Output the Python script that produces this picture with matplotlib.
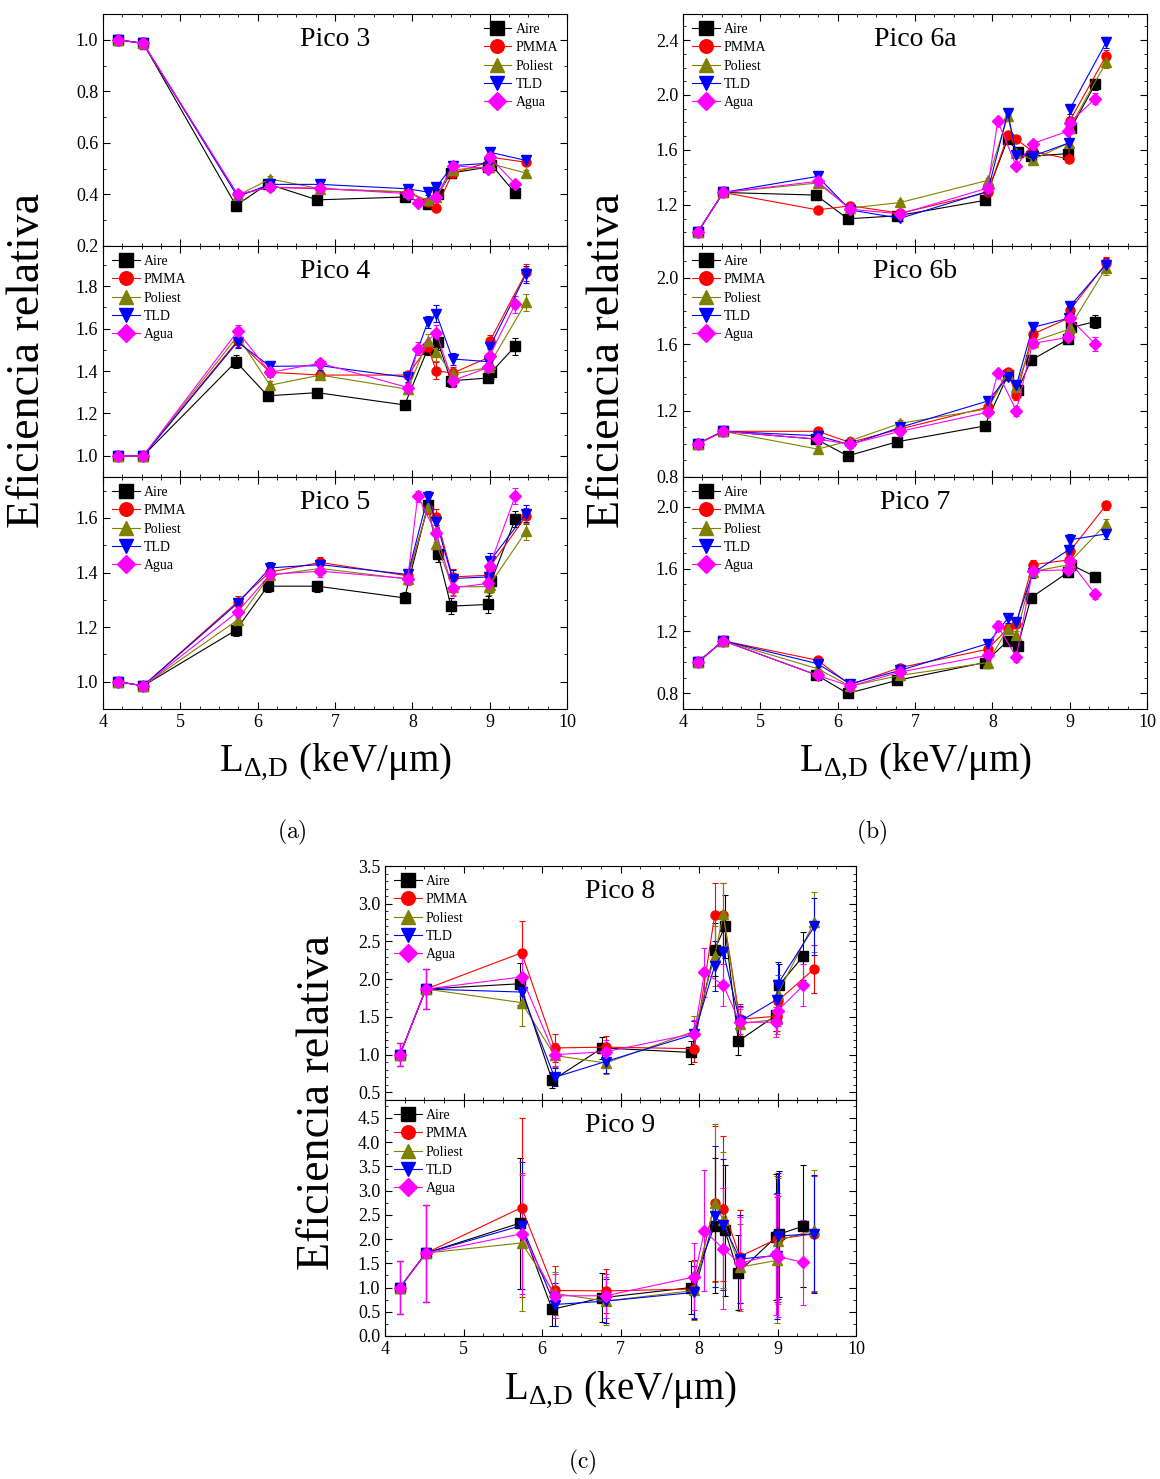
import numpy as np
import matplotlib
matplotlib.use('Agg')
import matplotlib.pyplot as plt
from matplotlib.ticker import MultipleLocator, FixedLocator

plt.rcParams['font.family'] = ['Liberation Serif', 'DejaVu Serif']
plt.rcParams['mathtext.fontset'] = 'stix'

# posiciones en x (LET, keV/um) de cada material
x_aire = [4.19, 4.52, 5.72, 6.13, 6.77, 7.90, 8.20, 8.33, 8.50, 8.98, 9.02, 9.33]
x_pmma = [4.19, 4.52, 5.74, 6.16, 6.81, 7.94, 8.20, 8.31, 8.52, 8.99, 9.00, 9.47]
x_poli = [4.19, 4.52, 5.74, 6.16, 6.81, 7.94, 8.20, 8.31, 8.52, 8.99, 9.00, 9.47]
x_tld = [4.19, 4.52, 5.74, 6.16, 6.81, 7.94, 8.20, 8.31, 8.52, 8.99, 9.00, 9.47]
x_agua = [4.19, 4.52, 5.74, 6.16, 6.81, 7.94, 8.07, 8.31, 8.52, 8.98, 9.00, 9.33]

# Pico 3
p3_aire = [1.00, 0.986, 0.357, 0.441, 0.379, 0.390, 0.364, 0.400, 0.483, 0.506, 0.516, 0.405]
p3_pmma = [1.00, 0.986, 0.399, 0.428, 0.422, 0.409, 0.370, 0.348, 0.483, 0.525, 0.545, 0.525]
p3_poli = [1.00, 0.986, 0.396, 0.460, 0.422, 0.410, 0.377, 0.390, 0.495, 0.508, 0.520, 0.483]
p3_tld = [1.00, 0.986, 0.392, 0.439, 0.439, 0.422, 0.409, 0.428, 0.512, 0.521, 0.564, 0.532]
p3_agua = [1.00, 0.986, 0.400, 0.428, 0.424, 0.403, 0.368, 0.390, 0.512, 0.500, 0.545, 0.441]
e3 = [0.02, 0.02, 0.01, 0.01, 0.01, 0.01, 0.01, 0.01, 0.01, 0.01, 0.01, 0.01]

# Pico 4
p4_aire = [1.00, 1.00, 1.444, 1.283, 1.298, 1.240, 1.505, 1.537, 1.354, 1.367, 1.394, 1.517]
p4_pmma = [1.00, 1.00, 1.544, 1.394, 1.381, 1.381, 1.513, 1.402, 1.390, 1.465, 1.540, 1.865]
p4_poli = [1.00, 1.00, 1.565, 1.333, 1.381, 1.314, 1.544, 1.489, 1.386, 1.417, 1.433, 1.724]
p4_tld = [1.00, 1.00, 1.537, 1.422, 1.425, 1.370, 1.632, 1.671, 1.457, 1.444, 1.513, 1.857]
p4_agua = [1.00, 1.00, 1.587, 1.394, 1.437, 1.322, 1.505, 1.579, 1.354, 1.417, 1.473, 1.714]
e4 = [0.01, 0.01, 0.03, 0.02, 0.02, 0.02, 0.03, 0.04, 0.03, 0.02, 0.03, 0.04]

# Pico 5
p5_aire = [1.00, 0.985, 1.189, 1.350, 1.350, 1.307, 1.646, 1.469, 1.277, 1.283, 1.368, 1.595]
p5_pmma = [1.00, 0.985, 1.293, 1.402, 1.437, 1.388, 1.634, 1.604, 1.384, 1.390, 1.420, 1.607]
p5_poli = [1.00, 0.985, 1.226, 1.390, 1.415, 1.376, 1.640, 1.506, 1.348, 1.348, 1.354, 1.551]
p5_tld = [1.00, 0.985, 1.287, 1.417, 1.429, 1.393, 1.677, 1.585, 1.378, 1.384, 1.441, 1.616]
p5_agua = [1.00, 0.985, 1.256, 1.393, 1.405, 1.378, 1.680, 1.543, 1.344, 1.360, 1.424, 1.680]
e5 = [0.01, 0.01, 0.02, 0.02, 0.02, 0.02, 0.02, 0.03, 0.03, 0.03, 0.03, 0.03]

# Pico 6a
p6a_aire = [1.00, 1.29, 1.271, 1.098, 1.120, 1.232, 1.680, 1.583, 1.554, 1.573, 1.761, 2.078]
p6a_pmma = [1.00, 1.29, 1.163, 1.193, 1.139, 1.290, 1.705, 1.676, 1.590, 1.534, 1.810, 2.285]
p6a_poli = [1.00, 1.29, 1.359, 1.176, 1.217, 1.378, 1.846, 1.578, 1.529, 1.651, 1.761, 2.237]
p6a_tld = [1.00, 1.29, 1.407, 1.163, 1.102, 1.298, 1.871, 1.566, 1.554, 1.651, 1.895, 2.383]
p6a_agua = [1.00, 1.29, 1.371, 1.168, 1.134, 1.322, 1.810, 1.480, 1.646, 1.737, 1.798, 1.973]
e6a = [0.01, 0.02, 0.02, 0.02, 0.02, 0.02, 0.02, 0.02, 0.02, 0.02, 0.03, 0.04]

# Pico 6b
p6b_aire = [1.00, 1.075, 1.028, 0.927, 1.012, 1.107, 1.412, 1.325, 1.503, 1.628, 1.700, 1.735]
p6b_pmma = [1.00, 1.075, 1.075, 1.008, 1.089, 1.220, 1.432, 1.291, 1.659, 1.756, 1.802, 2.085]
p6b_poli = [1.00, 1.075, 0.968, 1.018, 1.123, 1.210, 1.422, 1.341, 1.614, 1.689, 1.700, 2.058]
p6b_tld = [1.00, 1.075, 1.048, 0.994, 1.099, 1.257, 1.402, 1.351, 1.700, 1.756, 1.826, 2.078]
p6b_agua = [1.00, 1.075, 1.028, 0.998, 1.075, 1.190, 1.426, 1.200, 1.604, 1.640, 1.756, 1.600]
e6b = [0.01, 0.01, 0.02, 0.02, 0.02, 0.02, 0.02, 0.03, 0.03, 0.03, 0.03, 0.04]

# Pico 7
p7_aire = [1.00, 1.138, 0.920, 0.800, 0.884, 0.998, 1.138, 1.105, 1.415, 1.578, 1.626, 1.550]
p7_pmma = [1.00, 1.138, 1.013, 0.856, 0.966, 1.084, 1.217, 1.249, 1.626, 1.658, 1.712, 2.009]
p7_poli = [1.00, 1.138, 0.959, 0.847, 0.916, 0.998, 1.217, 1.174, 1.583, 1.626, 1.643, 1.888]
p7_tld = [1.00, 1.138, 0.991, 0.862, 0.948, 1.120, 1.282, 1.260, 1.572, 1.723, 1.787, 1.824]
p7_agua = [1.00, 1.138, 0.916, 0.847, 0.938, 1.045, 1.234, 1.034, 1.587, 1.594, 1.652, 1.437]
e7 = [0.01, 0.01, 0.02, 0.02, 0.02, 0.02, 0.03, 0.03, 0.03, 0.03, 0.04, 0.03]

# Pico 8
p8_aire = [1.00, 1.87, 1.94, 0.66, 1.09, 1.03, 2.39, 2.70, 1.18, 1.52, 1.92, 2.31]
p8_pmma = [1.00, 1.87, 2.35, 1.09, 1.10, 1.08, 2.85, 2.85, 1.47, 1.51, 1.71, 2.14]
p8_poli = [1.00, 1.87, 1.69, 0.99, 0.89, 1.31, 2.31, 2.86, 1.41, 1.47, 1.80, 2.76]
p8_tld = [1.00, 1.87, 1.83, 0.70, 0.91, 1.27, 2.18, 2.36, 1.44, 1.73, 1.93, 2.70]
p8_agua = [1.00, 1.87, 2.03, 1.00, 1.04, 1.28, 2.09, 1.92, 1.43, 1.43, 1.58, 1.92]
e8_aire = [0.15, 0.27, 0.28, 0.10, 0.15, 0.15, 0.35, 0.42, 0.18, 0.20, 0.28, 0.32]
e8_pmma = [0.15, 0.27, 0.42, 0.18, 0.15, 0.17, 0.42, 0.42, 0.20, 0.20, 0.25, 0.32]
e8_poli = [0.15, 0.27, 0.31, 0.15, 0.15, 0.20, 0.40, 0.42, 0.20, 0.20, 0.25, 0.40]
e8_tld = [0.15, 0.27, 0.20, 0.12, 0.15, 0.18, 0.33, 0.40, 0.20, 0.25, 0.30, 0.38]
e8_agua = [0.15, 0.27, 0.25, 0.15, 0.15, 0.18, 0.32, 0.28, 0.20, 0.20, 0.20, 0.28]

# Pico 9
p9_aire = [1.00, 1.71, 2.33, 0.55, 0.79, 1.00, 2.28, 2.18, 1.31, 2.04, 2.10, 2.27]
p9_pmma = [1.00, 1.71, 2.65, 0.94, 0.93, 0.97, 2.74, 2.63, 1.64, 2.00, 2.00, 2.11]
p9_poli = [1.00, 1.71, 1.92, 0.88, 0.72, 0.94, 2.74, 2.39, 1.42, 1.56, 1.97, 2.18]
p9_tld = [1.00, 1.71, 2.28, 0.65, 0.72, 0.90, 2.47, 2.30, 1.59, 1.66, 2.06, 2.11]
p9_agua = [1.00, 1.71, 2.11, 0.83, 0.83, 1.22, 2.17, 1.80, 1.50, 1.69, 1.64, 1.52]
e9_aire = [0.55, 1.00, 1.35, 0.35, 0.50, 0.55, 1.40, 1.35, 0.78, 1.30, 1.30, 1.25]
e9_pmma = [0.55, 1.00, 1.85, 0.50, 0.45, 0.60, 1.60, 1.50, 0.95, 1.30, 1.30, 1.20]
e9_poli = [0.55, 1.00, 1.40, 0.45, 0.50, 0.60, 1.63, 1.40, 0.90, 1.30, 1.30, 1.25]
e9_tld = [0.55, 1.00, 1.32, 0.45, 0.45, 0.55, 1.45, 1.35, 0.90, 1.30, 1.30, 1.22]
e9_agua = [0.55, 1.00, 1.25, 0.45, 0.45, 0.69, 1.25, 1.25, 0.95, 1.25, 1.25, 0.87]

nombres = ['Aire', 'PMMA', 'Poliest', 'TLD', 'Agua']
marcas = ['s', 'o', '^', 'v', 'D']
colores = ['black', 'red', '#808000', 'blue', 'magenta']
xs = [x_aire, x_pmma, x_poli, x_tld, x_agua]

W, H = 1160, 1479
fig = plt.figure(figsize=(W / 100, H / 100), dpi=100)


def caja(x0, y0, x1, y1):
    # rectangulo en pixeles -> fraccion de figura
    return [x0 / W, 1 - y1 / H, (x1 - x0) / W, (y1 - y0) / H]


def panel(rect, titulo, ys, errs, ylim, yticks, yminor, legend_loc, xlabels):
    ax = fig.add_axes(rect)
    handles = []
    for i in range(5):
        c = ax.errorbar(xs[i], ys[i], yerr=errs[i], color=colores[i],
                        marker=marcas[i], ms=6.5 if marcas[i] != 'D' else 6,
                        lw=0.8, elinewidth=0.8, capsize=2.5, capthick=0.8,
                        label=nombres[i])
        handles.append(c.lines[0])
    ax.set_xlim(4, 10)
    ax.set_ylim(*ylim)
    ax.xaxis.set_major_locator(MultipleLocator(1))
    ax.xaxis.set_minor_locator(MultipleLocator(0.25))
    ax.yaxis.set_major_locator(FixedLocator(yticks))
    ax.yaxis.set_minor_locator(MultipleLocator(yminor))
    ax.tick_params(which='both', direction='in', top=True, right=True,
                   labelsize=13)
    ax.tick_params(which='major', length=5)
    ax.tick_params(which='minor', length=2.5)
    ax.yaxis.set_major_formatter(plt.FormatStrFormatter('%.1f'))
    if not xlabels:
        ax.tick_params(labelbottom=False)
    ax.text(0.5, 0.89, titulo, transform=ax.transAxes, ha='center',
            va='center', fontsize=20)
    ax.legend(handles, nombres, loc=legend_loc, frameon=False, fontsize=10,
              markerscale=1.5, handlelength=2.0, labelspacing=0.38,
              handletextpad=0.3, borderaxespad=0.25)
    return ax


def lista(*a):
    return list(a)


# columna (a)
panel(caja(103, 14, 567, 246), 'Pico 3',
      lista(p3_aire, p3_pmma, p3_poli, p3_tld, p3_agua), [e3] * 5,
      (0.2, 1.1), [0.2, 0.4, 0.6, 0.8, 1.0], 0.1, 'upper right', False)
panel(caja(103, 246, 567, 477), 'Pico 4',
      lista(p4_aire, p4_pmma, p4_poli, p4_tld, p4_agua), [e4] * 5,
      (0.9, 1.99), [1.0, 1.2, 1.4, 1.6, 1.8], 0.1, 'upper left', False)
panel(caja(103, 477, 567, 709), 'Pico 5',
      lista(p5_aire, p5_pmma, p5_poli, p5_tld, p5_agua), [e5] * 5,
      (0.9, 1.75), [1.0, 1.2, 1.4, 1.6], 0.1, 'upper left', True)

# columna (b)
panel(caja(683, 14, 1147, 246), 'Pico 6a',
      lista(p6a_aire, p6a_pmma, p6a_poli, p6a_tld, p6a_agua), [e6a] * 5,
      (0.9, 2.59), [1.2, 1.6, 2.0, 2.4], 0.1, 'upper left', False)
panel(caja(683, 246, 1147, 477), 'Pico 6b',
      lista(p6b_aire, p6b_pmma, p6b_poli, p6b_tld, p6b_agua), [e6b] * 5,
      (0.8, 2.19), [0.8, 1.2, 1.6, 2.0], 0.1, 'upper left', False)
panel(caja(683, 477, 1147, 709), 'Pico 7',
      lista(p7_aire, p7_pmma, p7_poli, p7_tld, p7_agua), [e7] * 5,
      (0.7, 2.19), [0.8, 1.2, 1.6, 2.0], 0.1, 'upper left', True)

# bloque (c)
panel(caja(385, 866, 856, 1100), 'Pico 8',
      lista(p8_aire, p8_pmma, p8_poli, p8_tld, p8_agua),
      lista(e8_aire, e8_pmma, e8_poli, e8_tld, e8_agua),
      (0.4, 3.5), [0.5, 1.0, 1.5, 2.0, 2.5, 3.0, 3.5], 0.1, 'upper left', False)
panel(caja(385, 1100, 856, 1336), 'Pico 9',
      lista(p9_aire, p9_pmma, p9_poli, p9_tld, p9_agua),
      lista(e9_aire, e9_pmma, e9_poli, e9_tld, e9_agua),
      (0.0, 4.87), [0.0, 0.5, 1.0, 1.5, 2.0, 2.5, 3.0, 3.5, 4.0, 4.5], 0.25,
      'upper left', True)

# etiquetas de ejes y subfiguras
ylab = 'Eficiencia relativa'
xlab = r'L$_{\mathregular{\Delta{,}D}}$ (keV/μm)'
for (yx, yy), (xx, xy), (lx, ly, let) in [((28, 361), (335, 762), (292, 832, '(a)')),
                                          ((608, 361), (915, 762), (872, 832, '(b)')),
                                          ((318, 1103), (620, 1390), (582, 1462, '(c)'))]:
    fig.text(yx / W, 1 - yy / H, ylab, rotation=90, ha='center', va='center',
             fontsize=33)
    fig.text(xx / W, 1 - xy / H, xlab, ha='center', va='center', fontsize=28)
    fig.text(lx / W, 1 - ly / H, r'$\mathrm{' + let + '}$', ha='center',
             va='center', fontsize=17, math_fontfamily='cm')

fig.savefig('out.png', dpi=100)
